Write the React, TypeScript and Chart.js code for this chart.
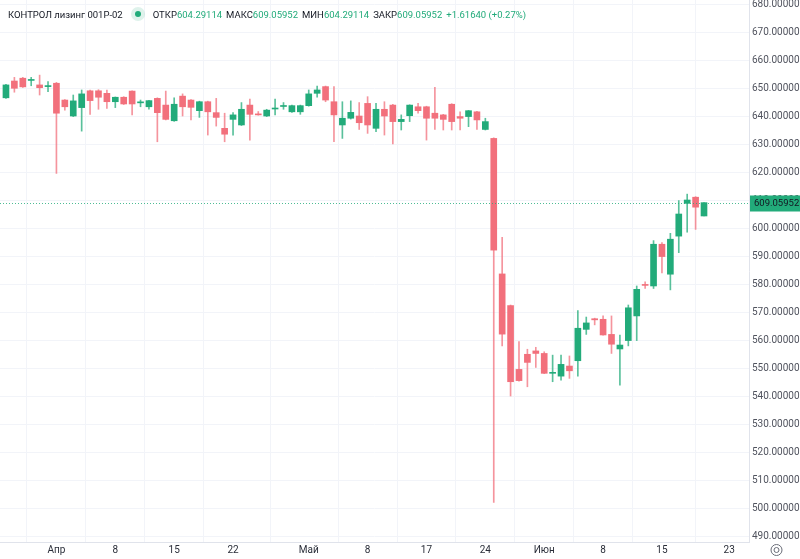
import React, { useEffect, useRef } from 'react';
import { Chart, registerables } from 'chart.js';

Chart.register(...registerables);

// daily candles, index 0 = first trading day shown
const opens = [
  646.5, 652.5, 653.5, 652.7, 651.1, 650.5, 651.7, 645.7, 640.0, 643.0,
  649.0, 649.0, 648.1, 645.1, 646.7, 648.9, 644.7, 643.3, 646.3, 643.9,
  638.3, 647.1, 645.7, 641.9, 645.1, 641.2, 635.6, 638.8, 636.8, 643.9,
  640.7, 640.0, 642.5, 643.4, 641.5, 641.5, 643.7, 648.1, 650.5, 645.1,
  636.8, 639.2, 640.0, 644.5, 635.6, 642.4, 643.9, 638.0, 640.1, 643.3,
  643.3, 641.0, 640.4, 644.2, 639.8, 639.8, 641.5, 635.2, 632.0, 583.6,
  572.3, 549.5, 554.9, 556.1, 555.2, 548.1, 547.1, 550.7, 552.6, 563.8,
  567.6, 567.4, 562.0, 556.8, 559.8, 568.6, 579.8, 579.3, 594.2, 583.5,
  597.1, 608.8, 611.0, 604.29114,
];
const highs = [
  651.3, 653.8, 653.8, 653.8, 654.6, 652.3, 652.0, 645.9, 647.5, 649.3,
  649.3, 649.4, 649.3, 646.8, 646.9, 649.0, 645.7, 645.6, 646.5, 648.9,
  646.5, 647.9, 645.9, 645.3, 645.3, 646.3, 641.0, 641.2, 644.8, 646.0,
  641.6, 642.4, 646.0, 644.8, 643.9, 643.9, 649.3, 650.7, 650.7, 650.5,
  645.1, 645.4, 644.8, 646.9, 644.5, 645.1, 644.2, 640.4, 644.0, 644.5,
  643.5, 650.2, 640.6, 644.4, 641.5, 642.0, 641.7, 639.2, 632.2, 596.7,
  572.5, 559.4, 556.7, 557.4, 555.8, 554.6, 554.6, 554.3, 570.5, 568.2,
  567.8, 568.6, 568.6, 561.8, 572.5, 579.3, 580.8, 595.5, 594.8, 598.1,
  609.8, 612.1, 611.2, 609.05952,
];
const lows = [
  646.3, 648.5, 650.2, 650.8, 647.5, 648.7, 619.5, 642.1, 639.8, 634.6,
  640.6, 642.4, 642.7, 643.0, 644.1, 640.4, 643.3, 642.4, 630.8, 638.6,
  638.1, 640.0, 638.6, 639.5, 633.2, 636.4, 630.8, 633.2, 636.6, 631.4,
  640.3, 639.8, 640.4, 642.4, 641.3, 640.6, 643.5, 646.7, 645.1, 630.8,
  632.0, 638.9, 635.2, 633.8, 634.4, 633.2, 630.0, 635.0, 638.0, 641.0,
  631.4, 635.2, 635.0, 635.0, 635.0, 636.2, 635.2, 635.0, 502.0, 557.9,
  540.0, 545.3, 543.3, 550.2, 548.0, 545.1, 545.7, 546.3, 547.1, 562.0,
  565.4, 561.7, 555.2, 543.9, 557.9, 559.8, 578.4, 578.4, 584.0, 577.9,
  591.2, 598.5, 599.5, 604.29114,
];
const closes = [
  651.1, 649.9, 650.4, 652.9, 650.1, 650.8, 641.0, 643.3, 645.4, 647.9,
  645.5, 646.7, 645.1, 646.7, 644.3, 644.3, 645.0, 645.5, 641.2, 638.8,
  644.2, 643.3, 643.1, 645.1, 641.5, 639.5, 633.5, 640.4, 642.4, 640.6,
  640.4, 642.1, 642.8, 643.7, 643.7, 643.7, 647.9, 649.3, 645.7, 640.4,
  639.2, 641.3, 637.6, 636.8, 642.4, 640.0, 638.0, 638.8, 643.9, 641.9,
  639.2, 639.2, 638.8, 638.0, 639.2, 641.9, 638.6, 638.0, 592.1, 562.1,
  545.1, 545.5, 552.0, 555.2, 548.1, 548.4, 551.3, 549.0, 564.2, 566.1,
  567.2, 561.8, 558.5, 558.2, 571.5, 578.1, 579.5, 594.2, 589.8, 596.0,
  605.0, 610.0, 607.44, 609.05952,
];

// x-axis ticks: candle index -> label
const dateTickIndex = [6, 13, 20, 27, 36, 43, 50, 57, 64, 71, 78, 86];
const dateTickLabels = ['Апр', '8', '15', '22', 'Май', '8', '17', '24', 'Июн', '8', '15', '23'];
const priceTicks = [490, 500, 510, 520, 530, 540, 550, 560, 570, 580, 590, 600, 610, 620, 630, 640, 650, 660, 670, 680];

const GREEN = 'rgb(34,171,122)';
const RED = 'rgb(242,112,124)';
const GREEN_WICK = 'rgba(34,171,122,0.75)';
const RED_WICK = 'rgba(242,112,124,0.75)';
const FONT = 'Roboto, "Noto Sans", sans-serif';

const lastClose = closes[closes.length - 1];

const lastPricePlugin = {
  id: 'lastPrice',
  afterDraw(chart: any) {
    const { ctx, chartArea, scales } = chart;
    const y = Math.round(scales.y.getPixelForValue(lastClose)) + 0.5;
    ctx.save();
    ctx.strokeStyle = 'rgba(34,171,122,0.8)';
    ctx.lineWidth = 1;
    ctx.setLineDash([1, 2]);
    ctx.beginPath();
    ctx.moveTo(chartArea.left, y);
    ctx.lineTo(chartArea.right, y);
    ctx.stroke();
    ctx.setLineDash([]);
    // label on the price scale
    ctx.fillStyle = GREEN;
    ctx.fillRect(chartArea.right + 1, y - 8, chart.width - chartArea.right - 1, 16);
    ctx.fillStyle = '#131722';
    ctx.font = '9.5px ' + FONT;
    ctx.textBaseline = 'middle';
    ctx.textAlign = 'left';
    ctx.fillText(lastClose.toFixed(5), chartArea.right + 5, y + 0.5);
    // settings icon in the corner
    const cx = chartArea.right + (chart.width - chartArea.right) / 2 + 2;
    const cy = chartArea.bottom + 8;
    ctx.strokeStyle = '#6a6d78';
    ctx.beginPath();
    ctx.arc(cx, cy, 5.5, 0, Math.PI * 2);
    ctx.stroke();
    ctx.beginPath();
    ctx.arc(cx, cy, 2.5, 0, Math.PI * 2);
    ctx.stroke();
    ctx.restore();
  },
};

const Header: React.FC = () => {
  const lab: React.CSSProperties = { color: '#131722' };
  const val: React.CSSProperties = { color: GREEN, marginRight: 4 };
  return (
    <div style={{ position: 'absolute', left: 8, top: 7, fontFamily: FONT, fontSize: 9.5, color: '#131722', display: 'flex', alignItems: 'center', whiteSpace: 'nowrap' }}>
      <span>КОНТРОЛ лизинг 001Р-02</span>
      <span style={{ display: 'inline-block', width: 14, height: 14, borderRadius: 7, background: 'rgba(34,171,122,0.15)', margin: '0 8px 0 8px', position: 'relative' }}>
        <span style={{ position: 'absolute', left: 4, top: 4, width: 6, height: 6, borderRadius: 3, background: GREEN }} />
      </span>
      <span style={lab}>ОТКР</span><span style={val}>604.29114</span>
      <span style={lab}>МАКС</span><span style={val}>609.05952</span>
      <span style={lab}>МИН</span><span style={val}>604.29114</span>
      <span style={lab}>ЗАКР</span><span style={val}>609.05952</span>
      <span style={{ color: GREEN }}>+1.61640 (+0.27%)</span>
    </div>
  );
};

const App: React.FC = () => {
  const canvasRef = useRef<HTMLCanvasElement>(null);

  useEffect(() => {
    document.body.style.margin = '0';
    if (!canvasRef.current) return;
    const up = (i: number) => closes[i] >= opens[i];

    const chart = new Chart(canvasRef.current, {
      type: 'bar',
      data: {
        datasets: [
          {
            label: 'body',
            data: opens.map((o, i) => ({ x: i, y: [o, closes[i]] })) as any,
            backgroundColor: (c: any) => (up(c.dataIndex) ? GREEN : RED),
            barThickness: 6,
            minBarLength: 1,
            grouped: false,
            order: 0,
          },
          {
            label: 'wick',
            data: lows.map((l, i) => ({ x: i, y: [l, highs[i]] })) as any,
            backgroundColor: (c: any) => (up(c.dataIndex) ? GREEN_WICK : RED_WICK),
            barThickness: 1,
            grouped: false,
            order: 1,
          },
        ],
      },
      options: {
        animation: false,
        responsive: false,
        maintainAspectRatio: false,
        layout: { padding: 0 },
        plugins: { legend: { display: false }, tooltip: { enabled: false } },
        scales: {
          x: {
            type: 'linear',
            min: -0.71,
            max: 88.35,
            offset: false,
            afterBuildTicks: (s: any) => {
              s.ticks = dateTickIndex.map((v) => ({ value: v }));
            },
            afterFit: (s: any) => {
              s.height = 17;
              s.paddingLeft = 0;
              s.paddingRight = 0;
            },
            ticks: {
              callback: (v: any) => {
                const k = dateTickIndex.indexOf(Number(v));
                return k >= 0 ? dateTickLabels[k] : '';
              },
              font: { size: 10, family: FONT },
              color: '#2a2e39',
              padding: 2,
              maxRotation: 0,
              autoSkip: false,
            },
            grid: { color: '#f2f4f9', drawTicks: false },
            border: { color: '#e0e3eb' },
          },
          y: {
            type: 'linear',
            position: 'right',
            min: 487.86,
            max: 681.43,
            afterBuildTicks: (s: any) => {
              s.ticks = priceTicks.map((v) => ({ value: v }));
            },
            afterFit: (s: any) => {
              s.width = 51;
              s.paddingTop = 0;
              s.paddingBottom = 0;
            },
            ticks: {
              callback: (v: any) => Number(v).toFixed(5),
              font: { size: 10, family: FONT },
              color: '#50535e',
              padding: 3,
              autoSkip: false,
            },
            grid: { color: '#f2f4f9', drawTicks: false },
            border: { color: '#e0e3eb' },
          },
        },
      },
      plugins: [lastPricePlugin],
    });

    return () => chart.destroy();
  }, []);

  return (
    <div style={{ position: 'relative', width: 800, height: 559, background: '#fff' }}>
      <canvas ref={canvasRef} width={800} height={559} style={{ display: 'block' }} />
      <Header />
    </div>
  );
};

export default App;
